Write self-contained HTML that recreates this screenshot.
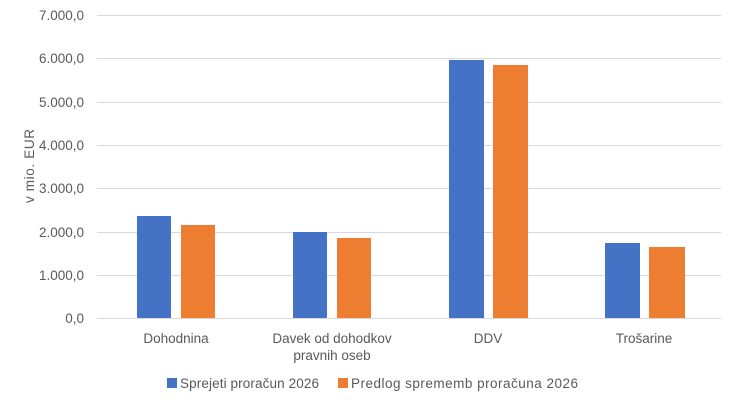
<!DOCTYPE html>
<html><head><meta charset="utf-8"><style>
body{margin:0;background:#fff}
svg text{font-family:"Liberation Sans",sans-serif;fill:#595959;font-size:13.5px}
</style></head><body>
<svg width="736" height="402" xmlns="http://www.w3.org/2000/svg">
<g stroke="#d9d9d9" stroke-width="1">
<line x1="97" x2="721" y1="15.5" y2="15.5"/>
<line x1="97" x2="721" y1="58.5" y2="58.5"/>
<line x1="97" x2="721" y1="102.5" y2="102.5"/>
<line x1="97" x2="721" y1="145.5" y2="145.5"/>
<line x1="97" x2="721" y1="188.5" y2="188.5"/>
<line x1="97" x2="721" y1="232.5" y2="232.5"/>
<line x1="97" x2="721" y1="275.5" y2="275.5"/>
<line x1="97" x2="721" y1="318.5" y2="318.5"/>
</g>
<g text-anchor="end">
<text x="84" y="20">7.000,0</text>
<text x="84" y="63">6.000,0</text>
<text x="84" y="107">5.000,0</text>
<text x="84" y="150">4.000,0</text>
<text x="84" y="193">3.000,0</text>
<text x="84" y="237">2.000,0</text>
<text x="84" y="280">1.000,0</text>
<text x="84" y="323">0,0</text>
</g>
<text transform="translate(34,166) rotate(-90)" text-anchor="middle" textLength="74">v mio. EUR</text>
<g fill="#4472c4">
<rect x="137" y="216" width="34" height="102"/>
<rect x="293" y="232" width="34" height="86"/>
<rect x="449" y="60" width="35" height="258"/>
<rect x="605" y="243" width="35" height="75"/>
</g>
<g fill="#ed7d31">
<rect x="181" y="225" width="34" height="93"/>
<rect x="337" y="238" width="34" height="80"/>
<rect x="493" y="65" width="35" height="253"/>
<rect x="649" y="247" width="36" height="71"/>
</g>
<g text-anchor="middle">
<text x="176" y="343">Dohodnina</text>
<text x="332" y="343">Davek od dohodkov</text>
<text x="332" y="360">pravnih oseb</text>
<text x="488" y="343">DDV</text>
<text x="644" y="343">Trošarine</text>
</g>
<rect x="167" y="378" width="10" height="10" fill="#4472c4"/>
<text x="180" y="388" textLength="139">Sprejeti proračun 2026</text>
<rect x="338" y="378" width="10" height="10" fill="#ed7d31"/>
<text x="351" y="388" textLength="227">Predlog sprememb proračuna 2026</text>
</svg>
</body></html>
